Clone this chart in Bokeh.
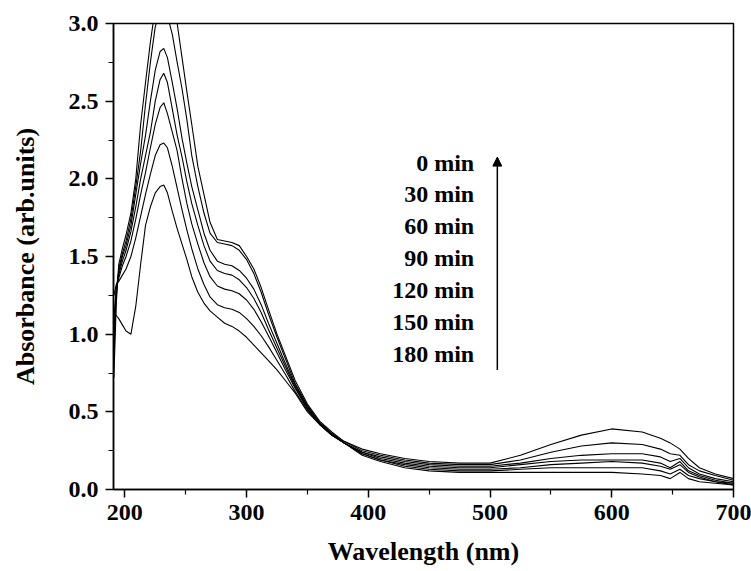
from bokeh.plotting import figure
from bokeh.models import Range1d, FixedTicker, NumeralTickFormatter, ColumnDataSource, Arrow, NormalHead
from bokeh.core.properties import value
from bokeh.embed import file_html
from bokeh.resources import INLINE

# ---------------- data ----------------
wavelength = [191, 193, 195, 198, 201, 205, 209, 213, 217, 221, 225, 229, 232, 235, 239,
              243, 247, 251, 255, 260, 265, 270, 276, 282, 288, 294, 300, 306, 312, 318,
              325, 332, 340, 350, 360, 370, 380, 395, 410, 430, 450, 475, 500, 525, 550,
              575, 600, 625, 640, 648, 656, 663, 672, 685, 700]

abs_0 = [0.72, 1.2, 1.45, 1.55, 1.64, 1.78, 2.0, 2.35, 2.62, 2.88, 3.1, 3.27, 3.33, 3.3, 3.18,
         3.0, 2.78, 2.56, 2.35, 2.08, 1.9, 1.72, 1.61, 1.6, 1.59, 1.57, 1.5, 1.42, 1.3, 1.16,
         1.0, 0.86, 0.7, 0.55, 0.44, 0.37, 0.31, 0.26, 0.23, 0.2, 0.18, 0.17, 0.17, 0.22, 0.29,
         0.35, 0.39, 0.37, 0.33, 0.3, 0.26, 0.2, 0.14, 0.1, 0.07]
abs_30 = [0.85, 1.25, 1.42, 1.52, 1.6, 1.74, 1.95, 2.18, 2.48, 2.75, 2.98, 3.08, 3.1, 3.05, 2.93,
          2.75, 2.58, 2.38, 2.15, 1.95, 1.78, 1.65, 1.59, 1.58, 1.57, 1.54, 1.48, 1.39, 1.27, 1.13,
          0.98, 0.84, 0.68, 0.54, 0.43, 0.36, 0.31, 0.25, 0.22, 0.19, 0.17, 0.16, 0.16, 0.19, 0.24,
          0.28, 0.3, 0.29, 0.26, 0.23, 0.22, 0.16, 0.12, 0.09, 0.06]
abs_60 = [1.0, 1.3, 1.4, 1.5, 1.57, 1.7, 1.9, 2.1, 2.28, 2.5, 2.7, 2.82, 2.84, 2.78, 2.62,
          2.45, 2.26, 2.1, 1.95, 1.8, 1.65, 1.54, 1.47, 1.45, 1.44, 1.41, 1.36, 1.29, 1.19, 1.07,
          0.94, 0.81, 0.67, 0.53, 0.43, 0.36, 0.3, 0.24, 0.21, 0.18, 0.16, 0.15, 0.15, 0.17, 0.2,
          0.22, 0.23, 0.23, 0.21, 0.18, 0.2, 0.14, 0.1, 0.07, 0.05]
abs_90 = [0.95, 1.28, 1.38, 1.47, 1.54, 1.66, 1.82, 2.0, 2.15, 2.3, 2.5, 2.64, 2.68, 2.62, 2.45,
          2.28, 2.14, 1.98, 1.84, 1.7, 1.57, 1.47, 1.41, 1.39, 1.38, 1.35, 1.3, 1.23, 1.14, 1.03,
          0.91, 0.79, 0.66, 0.52, 0.42, 0.35, 0.3, 0.24, 0.2, 0.17, 0.15, 0.14, 0.14, 0.16, 0.18,
          0.19, 0.19, 0.19, 0.17, 0.14, 0.18, 0.12, 0.09, 0.06, 0.04]
abs_120 = [1.1, 1.3, 1.36, 1.44, 1.5, 1.6, 1.74, 1.9, 2.04, 2.2, 2.35, 2.46, 2.49, 2.42, 2.3,
           2.18, 2.0, 1.84, 1.71, 1.58, 1.46, 1.37, 1.31, 1.29, 1.28, 1.26, 1.22, 1.16, 1.08, 0.99,
           0.88, 0.77, 0.65, 0.52, 0.42, 0.35, 0.3, 0.23, 0.19, 0.16, 0.14, 0.13, 0.13, 0.14, 0.16,
           0.17, 0.18, 0.17, 0.15, 0.13, 0.16, 0.11, 0.08, 0.05, 0.04]
abs_150 = [1.25, 1.32, 1.34, 1.38, 1.42, 1.5, 1.62, 1.76, 1.9, 2.03, 2.15, 2.22, 2.23, 2.2, 2.08,
           1.94, 1.8, 1.67, 1.55, 1.42, 1.32, 1.24, 1.19, 1.17, 1.16, 1.14, 1.1, 1.05, 0.99, 0.92,
           0.83, 0.74, 0.63, 0.51, 0.42, 0.35, 0.3, 0.23, 0.19, 0.15, 0.13, 0.12, 0.12, 0.13, 0.14,
           0.14, 0.14, 0.14, 0.12, 0.1, 0.13, 0.09, 0.07, 0.05, 0.03]
abs_180 = [1.15, 1.12, 1.1, 1.06, 1.02, 1.0, 1.18, 1.45, 1.7, 1.82, 1.91, 1.95, 1.96, 1.91, 1.79,
           1.68, 1.58, 1.48, 1.37, 1.27, 1.2, 1.15, 1.11, 1.07, 1.05, 1.02, 0.98, 0.93, 0.88, 0.83,
           0.77, 0.7, 0.62, 0.5, 0.42, 0.35, 0.3, 0.22, 0.18, 0.14, 0.12, 0.11, 0.11, 0.11, 0.11,
           0.11, 0.11, 0.1, 0.09, 0.07, 0.11, 0.07, 0.05, 0.04, 0.03]

series_labels = ["0 min", "30 min", "60 min", "90 min", "120 min", "150 min", "180 min"]
x_ticks = [200, 300, 400, 500, 600, 700]
x_minor_ticks = [250, 350, 450, 550, 650]
y_ticks = [0.0, 0.5, 1.0, 1.5, 2.0, 2.5, 3.0]
y_minor_ticks = [0.25, 0.75, 1.25, 1.75, 2.25, 2.75]

# ---------------- figure ----------------
FONT = "Liberation Serif"
p = figure(width=751, height=571, output_backend="svg", toolbar_location=None,
           x_range=Range1d(190.7, 700), y_range=Range1d(0, 3.0),
           min_border_left=113, min_border_right=18, min_border_top=23, min_border_bottom=82)
p.background_fill_color = "white"
p.border_fill_color = "white"
p.grid.visible = False
p.outline_line_color = "black"
p.outline_line_width = 1.5

for ys in [abs_0, abs_30, abs_60, abs_90, abs_120, abs_150, abs_180]:
    p.line(wavelength, ys, line_color="black", line_width=1.1)

for ax in (p.xaxis[0], p.yaxis[0]):
    ax.axis_line_width = 1.5
    ax.axis_line_color = "black"
    ax.major_tick_line_color = "black"
    ax.minor_tick_line_color = "black"
    ax.major_tick_line_width = 1.5
    ax.minor_tick_line_width = 1.2
    ax.major_tick_out = 8
    ax.major_tick_in = 0
    ax.minor_tick_out = 5
    ax.minor_tick_in = 0
    ax.major_label_text_font = FONT
    ax.major_label_text_font_style = "bold"
    ax.major_label_text_font_size = "24px"
    ax.major_label_text_color = "black"
    ax.axis_label_text_font = FONT
    ax.axis_label_text_font_style = "bold"
    ax.axis_label_text_font_size = "26px"
    ax.axis_label_text_color = "black"

p.xaxis.ticker = FixedTicker(ticks=x_ticks, minor_ticks=x_minor_ticks)
p.yaxis.ticker = FixedTicker(ticks=y_ticks, minor_ticks=y_minor_ticks)
p.yaxis.formatter = NumeralTickFormatter(format="0.0")
p.xaxis.axis_label = "Wavelength (nm)"
p.yaxis.axis_label = "Absorbance (arb.units)"
p.xaxis.major_label_standoff = 7
p.yaxis.major_label_standoff = 7
p.xaxis.axis_label_standoff = 14
p.yaxis.axis_label_standoff = 26

# legend-like labels and arrow
label_x = 487
label_top = 2.105
label_step = 0.205
src = ColumnDataSource(dict(
    x=[label_x] * len(series_labels),
    y=[label_top - i * label_step for i in range(len(series_labels))],
    t=series_labels))
p.text(x="x", y="y", text="t", source=src, text_align="right", text_baseline="middle",
       text_font=value(FONT), text_font_style="bold", text_font_size="24px", text_color="black")

p.add_layout(Arrow(end=NormalHead(size=9, fill_color="black", line_color="black"),
                   x_start=506, y_start=0.77, x_end=506, y_end=2.14,
                   line_color="black", line_width=1.5))

open("out.html", "w").write(file_html(p, INLINE))
